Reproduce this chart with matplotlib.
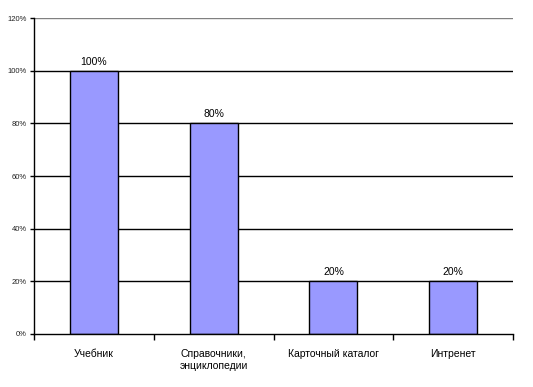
import matplotlib
matplotlib.use("Agg")
import matplotlib.pyplot as plt
import numpy as np

categories = ["Учебник", "Справочники,\nэнциклопедии", "Карточный каталог", "Интренет"]
values = [100, 80, 20, 20]
yticks = [0, 20, 40, 60, 80, 100, 120]

plt.rcParams['font.family'] = ['Liberation Sans', 'DejaVu Sans']

fig = plt.figure(figsize=(5.33, 3.87), dpi=100)
ax = fig.add_axes([34/533, 1-334/387, (513-34)/533, (334-18)/387])

x = np.arange(len(categories))
ax.set_xlim(-0.5, len(categories)-0.5)
ax.set_ylim(0, 120)

for t in yticks[1:]:
    ax.axhline(t, color='gray' if t == 120 else 'black', lw=1, zorder=1)

bars = ax.bar(x, values, width=0.4, color='#9999FF', edgecolor='black', lw=1, zorder=2)
for xi, v in zip(x, values):
    ax.text(xi, v + 1.5, f"{v}%", ha='center', va='bottom', fontsize=7.5)

ax.set_yticks(yticks)
ax.set_yticklabels([f"{t}%" for t in yticks], fontsize=5.5, color='#222222')
ax.set_xticks(np.arange(len(categories)+1) - 0.5, minor=False)
ax.set_xticklabels([])
ax.set_xticks(x, minor=True)
ax.set_xticklabels(categories, minor=True, fontsize=7.5, va='top', linespacing=1.2)
ax.tick_params(axis='x', which='minor', length=0, pad=11)
ax.tick_params(axis='x', which='major', length=4, direction='out', width=1)
ax.tick_params(axis='y', length=3, direction='out', width=1, pad=2)

for s in ['top', 'right']:
    ax.spines[s].set_visible(False)
ax.spines['left'].set_linewidth(1)
ax.spines['bottom'].set_linewidth(1)

fig.savefig("out.png", dpi=100)
